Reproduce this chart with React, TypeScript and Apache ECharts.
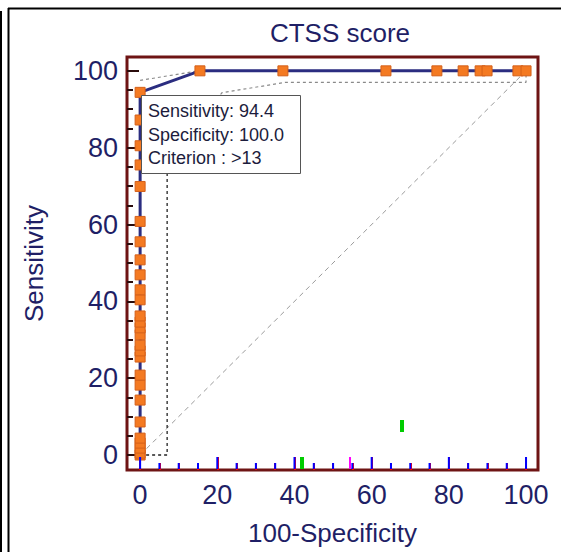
import React, { useEffect, useRef } from "react";
import * as echarts from "echarts";

const chartTitle = "CTSS score";
const xAxisName = "100-Specificity";
const yAxisName = "Sensitivity";

const majorTicks = [0, 20, 40, 60, 80, 100];
const minorTicks = [5, 10, 15, 25, 30, 35, 45, 50, 55, 65, 70, 75, 85, 90, 95];

const rocX = [
  0, 0, 0, 0, 0, 0, 0, 0, 0, 0, 0, 0, 0, 0, 0, 0, 0, 0, 0, 0, 0, 0, 0, 0, 0, 0, 0,
  15.5, 37, 63.7, 76.9, 83.7, 88.1, 89.9, 97.9, 100,
];
const rocY = [
  0, 0.5, 1.8, 3.1, 4.4, 8.6, 14.3, 18.2, 20.8, 25.5, 27.1, 28.6, 31.3, 33.1, 34.6,
  36.2, 40.4, 43.0, 46.9, 50.8, 55.5, 60.8, 69.9, 75.5, 80.5, 87.2, 94.4,
  100, 100, 100, 100, 100, 100, 100, 100, 100,
];

const diagX = [0, 100];
const diagY = [0, 100];
const lowerBoxX = [0, 7, 7];
const lowerBoxY = [0, 0, 75];
const lowerCurveX = [7, 21.2, 37.6, 100, 100];
const lowerCurveY = [75, 94.3, 97, 97, 100];
const upperX = [0, 15, 100];
const upperY = [97.5, 100, 100];

const criterionLines = ["Sensitivity: 94.4", "Specificity: 100.0", "Criterion : >13"];

const zip = (xs: number[], ys: number[]) => xs.map((x, i) => [x, ys[i]]);

const FONT = '"Liberation Sans", Arial, Helvetica, sans-serif';
const NAVY = "#1f1f66";
const FRAME = "#6e1414";
const TICK = "#2a0c0c";
const GRID_TOP = 57;
const GRID_H = 413;

export default function App() {
  const ref = useRef<HTMLDivElement>(null);
  useEffect(() => {
    if (!ref.current) return;
    const chart = echarts.init(ref.current, undefined, { renderer: "svg" });
    const xMin = -3.4, xMax = 103.1, yMin = -3.9, yMax = 103.6;
    const labelStyle = { color: NAVY, fontSize: 27, fontFamily: FONT };

    const staticGraphics: any[] = [
      { type: "rect", z: 100, shape: { x: 0, y: 11, width: 2, height: 545 }, style: { fill: "#000" } },
      { type: "line", z: 100, shape: { x1: 8, y1: 8.5, x2: 561, y2: 8.5 }, style: { stroke: "#000", lineWidth: 2 } },
      { type: "line", z: 100, shape: { x1: 8.5, y1: 8, x2: 8.5, y2: 552 }, style: { stroke: "#000", lineWidth: 2 } },
      {
        type: "rect",
        z: 100,
        shape: { x: 141.5, y: 95.5, width: 159, height: 78 },
        style: { fill: "#ffffff", stroke: "#555555", lineWidth: 1 },
      },
      ...criterionLines.map((t, i) => ({
        type: "text",
        z: 101,
        style: {
          text: t,
          x: 148,
          y: 111 + i * 23.5,
          fill: "#1c1c3c",
          fontSize: 18,
          fontFamily: FONT,
          verticalAlign: "middle",
          align: "left",
        },
      })),
      // diagnostics
      { type: "rect", z: 300, shape: { x: 300, y: 457, width: 4, height: 12 }, style: { fill: "#00cc00" } },
      { type: "line", z: 300, shape: { x1: 350, y1: 469, x2: 350, y2: 457 }, style: { stroke: "#ff00ff", lineWidth: 2 } },
      { type: "rect", z: 300, shape: { x: 400, y: 420, width: 4, height: 12 }, style: { fill: "#00cc00" } },
    ];

    const tickAxis = (values: number[], len: number) => ({
      type: "value",
      min: xMin,
      max: xMax,
      position: "top",
      offset: -GRID_H,
      axisLine: { show: false, onZero: false },
      splitLine: { show: false },
      axisTick: {
        show: true,
        inside: false,
        length: len,
        customValues: values,
        lineStyle: { color: "#ff0000", width: 2 },
      },
      axisLabel: { show: false },
    });

    chart.setOption({
      animation: false,
      backgroundColor: "#ffffff",
      title: {
        text: chartTitle,
        left: 335,
        top: 15,
        textAlign: "center",
        textStyle: { color: NAVY, fontSize: 26, fontWeight: "normal", fontFamily: FONT },
      },
      grid: {
        left: 127,
        top: GRID_TOP,
        width: 411,
        height: GRID_H,
        show: true,
        borderColor: FRAME,
        borderWidth: 3,
        backgroundColor: "transparent",
      },
      xAxis: [
        {
          type: "value",
          min: xMin,
          max: xMax,
          position: "bottom",
          name: xAxisName,
          nameLocation: "middle",
          nameGap: 50,
          nameTextStyle: { ...labelStyle, fontSize: 26 },
          axisLine: { show: false, onZero: false },
          splitLine: { show: false },
          axisTick: { show: false },
          axisLabel: { customValues: majorTicks, margin: 11, ...labelStyle },
        },
        tickAxis(majorTicks, 13),
        tickAxis(minorTicks, 7),
      ],
      yAxis: [
        {
          type: "value",
          min: yMin,
          max: yMax,
          position: "left",
          name: yAxisName,
          nameLocation: "middle",
          nameGap: 80,
          nameTextStyle: { ...labelStyle, fontSize: 26 },
          axisLine: { show: false, onZero: false },
          splitLine: { show: false },
          axisTick: {
            show: true,
            inside: true,
            length: 12,
            customValues: majorTicks,
            lineStyle: { color: TICK, width: 2 },
          },
          axisLabel: { customValues: majorTicks, margin: 9, ...labelStyle },
        },
        {
          type: "value",
          min: yMin,
          max: yMax,
          position: "left",
          axisLine: { show: false, onZero: false },
          splitLine: { show: false },
          axisTick: {
            show: true,
            inside: true,
            length: 6,
            customValues: minorTicks,
            lineStyle: { color: TICK, width: 2 },
          },
          axisLabel: { show: false },
        },
      ],
      series: [
        { type: "line", data: zip(diagX, diagY), symbol: "none", lineStyle: { color: "#9a9a9a", width: 1, type: [5, 4] }, z: 1 },
        { type: "line", data: zip(lowerBoxX, lowerBoxY), symbol: "none", lineStyle: { color: "#222222", width: 1.3, type: [3, 3] }, z: 1 },
        { type: "line", data: zip(lowerCurveX, lowerCurveY), symbol: "none", lineStyle: { color: "#8a8a8a", width: 1.2, type: [3, 3] }, z: 1 },
        { type: "line", data: zip(upperX, upperY), symbol: "none", lineStyle: { color: "#8a8a8a", width: 1.2, type: [3, 3] }, z: 1 },
        {
          type: "line",
          data: zip(rocX, rocY),
          symbol: "rect",
          symbolSize: 10,
          showAllSymbol: true,
          lineStyle: { color: "#2b2d80", width: 3 },
          itemStyle: { color: "#f47a22", borderColor: "#d4601a", borderWidth: 1 },
          z: 3,
        },
      ],
      graphic: staticGraphics,
    });

    const tickGraphics: any[] = [];
    const bottom = GRID_TOP + GRID_H;
    const addTick = (v: number, len: number) => {
      let px: any = chart.convertToPixel({ xAxisIndex: 0 }, v);
      if (Array.isArray(px)) px = px[0];
      if (typeof px !== "number" || !isFinite(px)) return;
      tickGraphics.push({
        type: "line",
        z: 200,
        shape: { x1: px, y1: bottom - 1, x2: px, y2: bottom - len },
        style: { stroke: "#0000ff", lineWidth: 2 },
      });
    };
    try {
      majorTicks.forEach((v) => addTick(v, 13));
      minorTicks.forEach((v) => addTick(v, 7));
      if (tickGraphics.length) {
        chart.setOption(
          { graphic: { elements: [...staticGraphics, ...tickGraphics] } },
          { replaceMerge: ["graphic"] } as any
        );
      }
    } catch (e) {}
    return () => chart.dispose();
  }, []);
  return (
    <div ref={ref} style={{ position: "absolute", left: 0, top: 0, width: 561, height: 552 }} />
  );
}
